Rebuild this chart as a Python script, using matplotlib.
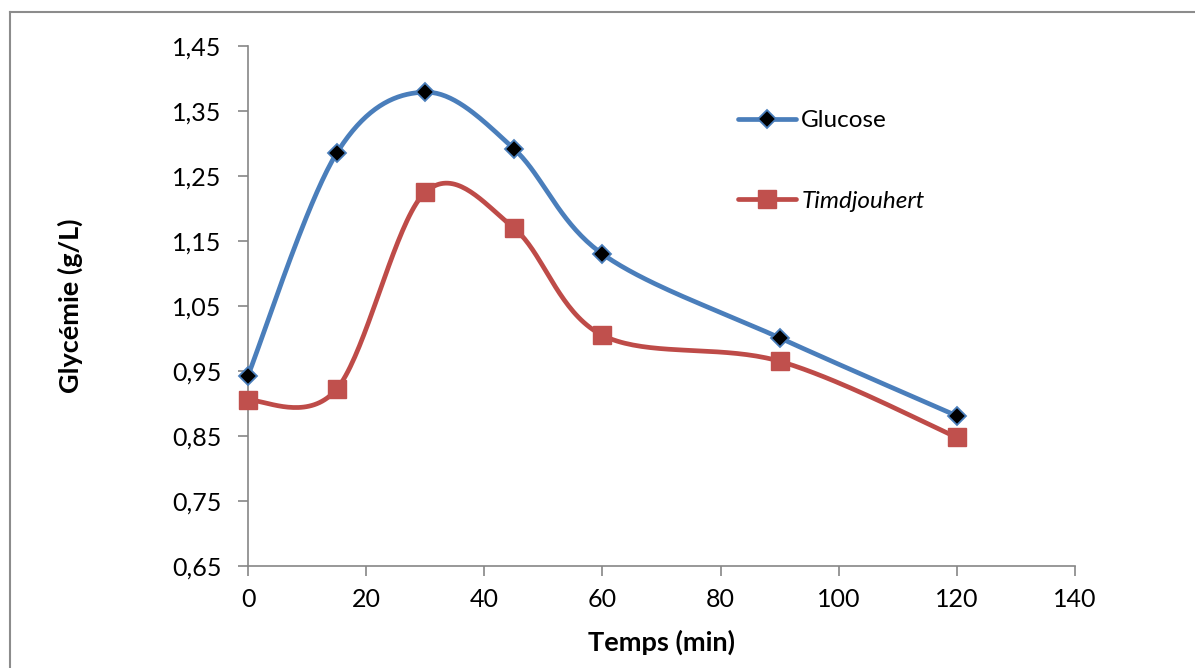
import numpy as np
import matplotlib.pyplot as plt
from matplotlib.lines import Line2D

plt.rcParams['font.family'] = ['Lato', 'DejaVu Sans']

# data
temps = [0, 15, 30, 45, 60, 90, 120]
glucose = [0.943, 1.285, 1.379, 1.292, 1.130, 1.001, 0.881]
timdjouhert = [0.905, 0.922, 1.225, 1.170, 1.005, 0.965, 0.848]
y_ticks = [0.65, 0.75, 0.85, 0.95, 1.05, 1.15, 1.25, 1.35, 1.45]
x_ticks = [0, 20, 40, 60, 80, 100, 120, 140]

blue = '#4A7EBB'
red = '#BE4B48'
axis_gray = '#868686'


def smooth(ax, xs, ys, n=40):
    # Excel-like smoothed line: Catmull-Rom bezier in display space
    pts = ax.transData.transform(np.column_stack([xs, ys]))
    out = []
    for i in range(len(pts) - 1):
        p0 = pts[i - 1] if i > 0 else pts[i]
        p1 = pts[i]
        p2 = pts[i + 1]
        p3 = pts[i + 2] if i + 2 < len(pts) else pts[i + 1]
        c1 = p1 + (p2 - p0) / 6
        c2 = p2 - (p3 - p1) / 6
        t = np.linspace(0, 1, n)[:, None]
        seg = ((1 - t) ** 3) * p1 + 3 * ((1 - t) ** 2) * t * c1 + 3 * (1 - t) * t ** 2 * c2 + t ** 3 * p2
        out.append(seg if i == 0 else seg[1:])
    out = np.vstack(out)
    data = ax.transData.inverted().transform(out)
    return data[:, 0], data[:, 1]


fig = plt.figure(figsize=(11.95, 6.68), dpi=100)
ax = fig.add_axes([248 / 1195, 1 - 566 / 668, 827 / 1195, 520 / 668])
ax.set_xlim(0, 140)
ax.set_ylim(0.65, 1.45)

# outer chart border (only left and top visible)
fig.add_artist(Line2D([9.5 / 1195, 9.5 / 1195], [0, 1 - 12 / 668], color='#8C8C8C', lw=1.5, transform=fig.transFigure))
fig.add_artist(Line2D([9.5 / 1195, 1], [1 - 12 / 668, 1 - 12 / 668], color='#8C8C8C', lw=1.5, transform=fig.transFigure))

gx, gy = smooth(ax, temps, glucose)
rx, ry = smooth(ax, temps, timdjouhert)
ax.plot(gx, gy, color=blue, lw=3.4, solid_capstyle='round', zorder=2, clip_on=False)
ax.plot(rx, ry, color=red, lw=3.4, solid_capstyle='round', zorder=2, clip_on=False)
ax.plot(temps, glucose, ls='none', marker='D', ms=9, mfc='black', mec=blue, mew=1.3, zorder=3, clip_on=False)
ax.plot(temps, timdjouhert, ls='none', marker='s', ms=13.5, mfc='#C0504D', mec='#C0504D', zorder=3, clip_on=False)

h1 = Line2D([], [], color=blue, lw=3.4, marker='D', ms=9, mfc='black', mec=blue, mew=1.3, solid_capstyle='round')
h2 = Line2D([], [], color=red, lw=3.4, marker='s', ms=13.5, mfc='#C0504D', mec='#C0504D', solid_capstyle='round')
leg = ax.legend([h1, h2], ['Glucose', 'Timdjouhert'], frameon=False, fontsize=17.5,
                loc='center left', bbox_to_anchor=(0.578, 0.779), labelspacing=2.45,
                handlelength=2.4, handletextpad=0.2, borderpad=0)
leg.get_texts()[1].set_style('italic')

ax.set_xticks(x_ticks)
ax.set_yticks(y_ticks)
ax.set_yticklabels([f'{v:.2f}'.replace('.', ',') for v in y_ticks])
ax.tick_params(labelsize=18, length=7, width=1.2, color=axis_gray)
ax.tick_params(axis='x', pad=9)
ax.tick_params(axis='y', pad=12)
for s in ['top', 'right']:
    ax.spines[s].set_visible(False)
for s in ['left', 'bottom']:
    ax.spines[s].set_color(axis_gray)
    ax.spines[s].set_linewidth(1.2)

ax.set_xlabel('Temps (min)', fontsize=19.5, fontweight='bold')
ax.set_ylabel('Glycémie (g/L)', fontsize=19.5, fontweight='bold')
ax.xaxis.set_label_coords(0.5, -0.122)
ax.yaxis.set_label_coords(-0.199, 0.5)

fig.savefig('out.png', dpi=100)
